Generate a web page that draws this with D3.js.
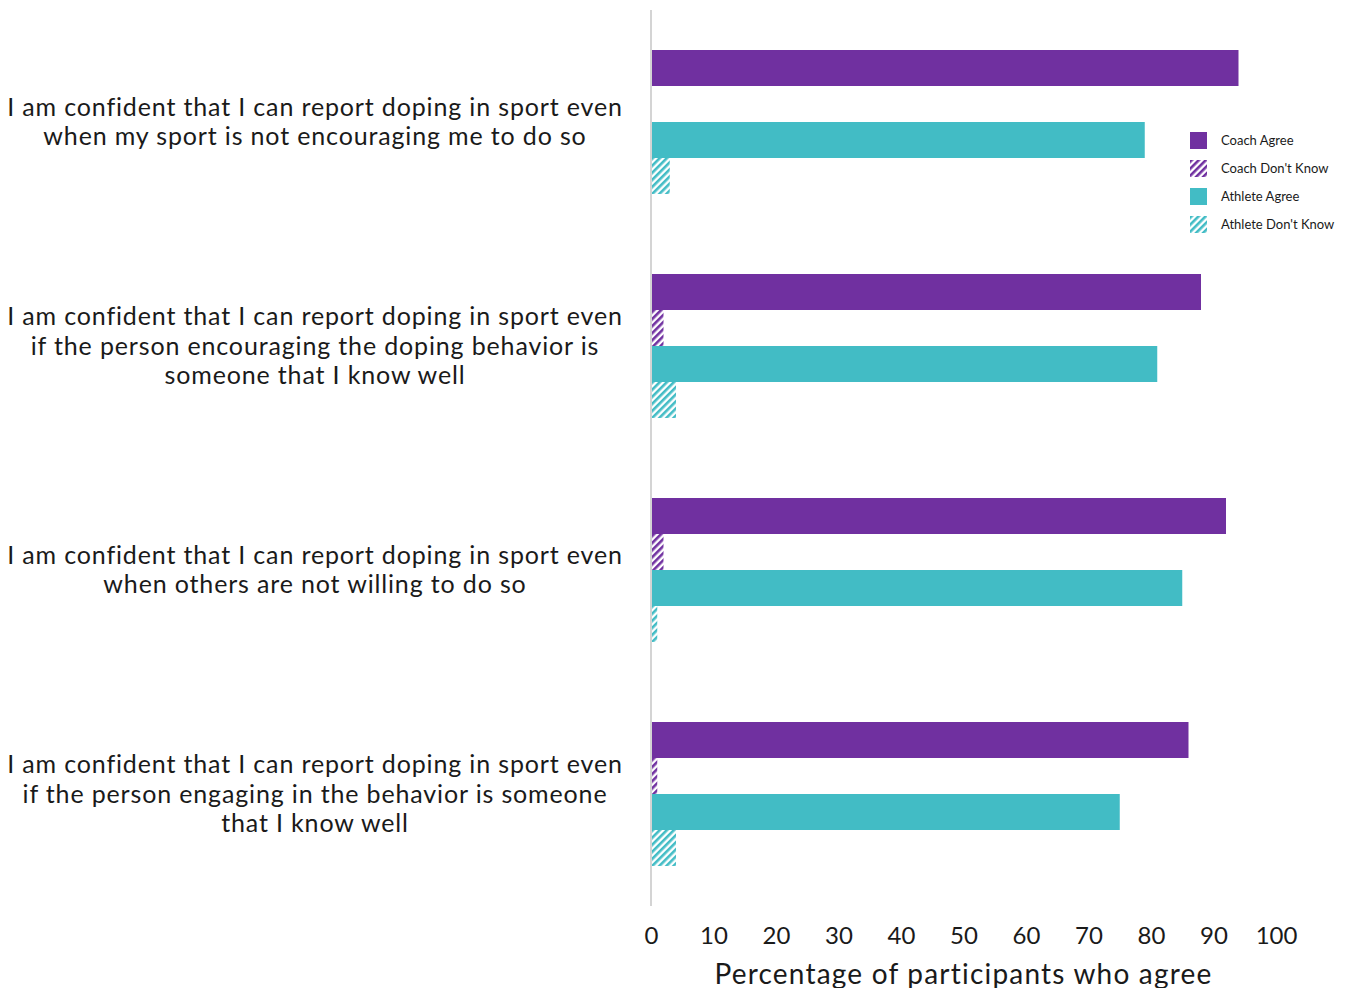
<!DOCTYPE html>
<html>
<head>
<meta charset="utf-8">
<script src="https://cdn.jsdelivr.net/npm/d3@7/dist/d3.min.js"></script>
<style>
  html, body { margin: 0; padding: 0; background: #fff; }
  svg { display: block; font-family: "Lato", "Noto Sans", sans-serif; }
</style>
</head>
<body>
<svg id="chart" width="1351" height="988"></svg>
<script>
// Survey statements (one group of bars each)
const statements = [
  ["I am confident that I can report doping in sport even", "when my sport is not encouraging me to do so"],
  ["I am confident that I can report doping in sport even", "if the person encouraging the doping behavior is", "someone that I know well"],
  ["I am confident that I can report doping in sport even", "when others are not willing to do so"],
  ["I am confident that I can report doping in sport even", "if the person engaging in the behavior is someone", "that I know well"]
];
const seriesNames = ["Coach Agree", "Coach Don't Know", "Athlete Agree", "Athlete Don't Know"];
const coachAgree = [94, 88, 92, 86];
const coachDontKnow = [0, 2, 2, 1];
const athleteAgree = [79, 81, 85, 75];
const athleteDontKnow = [3, 4, 1, 4];
const xTicks = [0, 10, 20, 30, 40, 50, 60, 70, 80, 90, 100];

const seriesValues = [coachAgree, coachDontKnow, athleteAgree, athleteDontKnow];
const purple = "#7030a0", teal = "#42bcc5";
const seriesStyle = [
  { color: purple, hatch: false },
  { color: purple, hatch: true },
  { color: teal, hatch: false },
  { color: teal, hatch: true }
];

const svg = d3.select("#chart");
const defs = svg.append("defs");
seriesStyle.forEach((s, i) => {
  if (!s.hatch) return;
  const p = defs.append("pattern")
    .attr("id", "hatch" + i)
    .attr("patternUnits", "userSpaceOnUse")
    .attr("width", 5).attr("height", 5)
    .attr("patternTransform", "rotate(45)");
  p.append("rect").attr("x", 0).attr("y", 0).attr("width", 2.6).attr("height", 5).attr("fill", s.color);
});
const fillFor = i => seriesStyle[i].hatch ? `url(#hatch${i})` : seriesStyle[i].color;

const x = d3.scaleLinear().domain([0, 100]).range([651, 1276]);
const y = d3.scaleBand().domain(d3.range(statements.length)).range([10, 906]).paddingInner(0).paddingOuter(0);
const ySub = d3.scaleBand().domain(d3.range(seriesNames.length)).range([0, y.bandwidth()])
  .paddingInner(0).paddingOuter(40 / 36);

// Bars
const groups = svg.append("g").selectAll("g")
  .data(statements)
  .join("g")
  .attr("transform", (d, i) => `translate(0,${y(i)})`);

groups.selectAll("rect")
  .data((d, gi) => seriesValues.map((vals, si) => ({ si, v: vals[gi] })))
  .join("rect")
  .attr("x", x(0))
  .attr("y", d => ySub(d.si))
  .attr("width", d => x(d.v) - x(0))
  .attr("height", ySub.bandwidth())
  .attr("fill", d => fillFor(d.si));

// Vertical baseline
svg.append("line")
  .attr("x1", x(0)).attr("x2", x(0))
  .attr("y1", 10).attr("y2", 906)
  .attr("stroke", "#d4d4d4").attr("stroke-width", 2);

// Category labels
const lineH = 29.3;
groups.append("text")
  .attr("text-anchor", "middle")
  .attr("font-size", 25)
  .attr("letter-spacing", 0.85)
  .attr("fill", "#1a1a1a")
  .each(function(lines) {
    const t = d3.select(this);
    const c = y.bandwidth() / 2;
    lines.forEach((ln, k) => {
      t.append("tspan")
        .attr("x", 315)
        .attr("y", c + (k - (lines.length - 1) / 2) * lineH)
        .attr("dy", "0.35em")
        .text(ln);
    });
  });

// X axis (labels only)
const xAxis = d3.axisBottom(x).tickValues(xTicks).tickSize(0).tickPadding(0);
const ax = svg.append("g").attr("transform", "translate(0,936)").call(xAxis);
ax.select(".domain").remove();
ax.selectAll("text")
  .attr("font-size", 24)
  .attr("font-family", "Lato, 'Noto Sans', sans-serif")
  .attr("fill", "#1a1a1a")
  .attr("dy", "0.35em")
  .attr("y", 0);

svg.append("text")
  .attr("x", (x(0) + x(100)) / 2)
  .attr("y", 974)
  .attr("dy", "0.35em")
  .attr("text-anchor", "middle")
  .attr("font-size", 28)
  .attr("letter-spacing", 1.2)
  .attr("fill", "#1a1a1a")
  .text("Percentage of participants who agree");

// Legend
const legend = svg.append("g").attr("transform", "translate(1190,132)");
const li = legend.selectAll("g").data(seriesNames).join("g")
  .attr("transform", (d, i) => `translate(0,${i * 28})`);
li.append("rect").attr("width", 17).attr("height", 17).attr("fill", (d, i) => fillFor(i));
li.append("text").attr("x", 31).attr("y", 8.5).attr("dy", "0.35em")
  .attr("font-size", 13).attr("fill", "#1a1a1a").text(d => d);
</script>
</body>
</html>
